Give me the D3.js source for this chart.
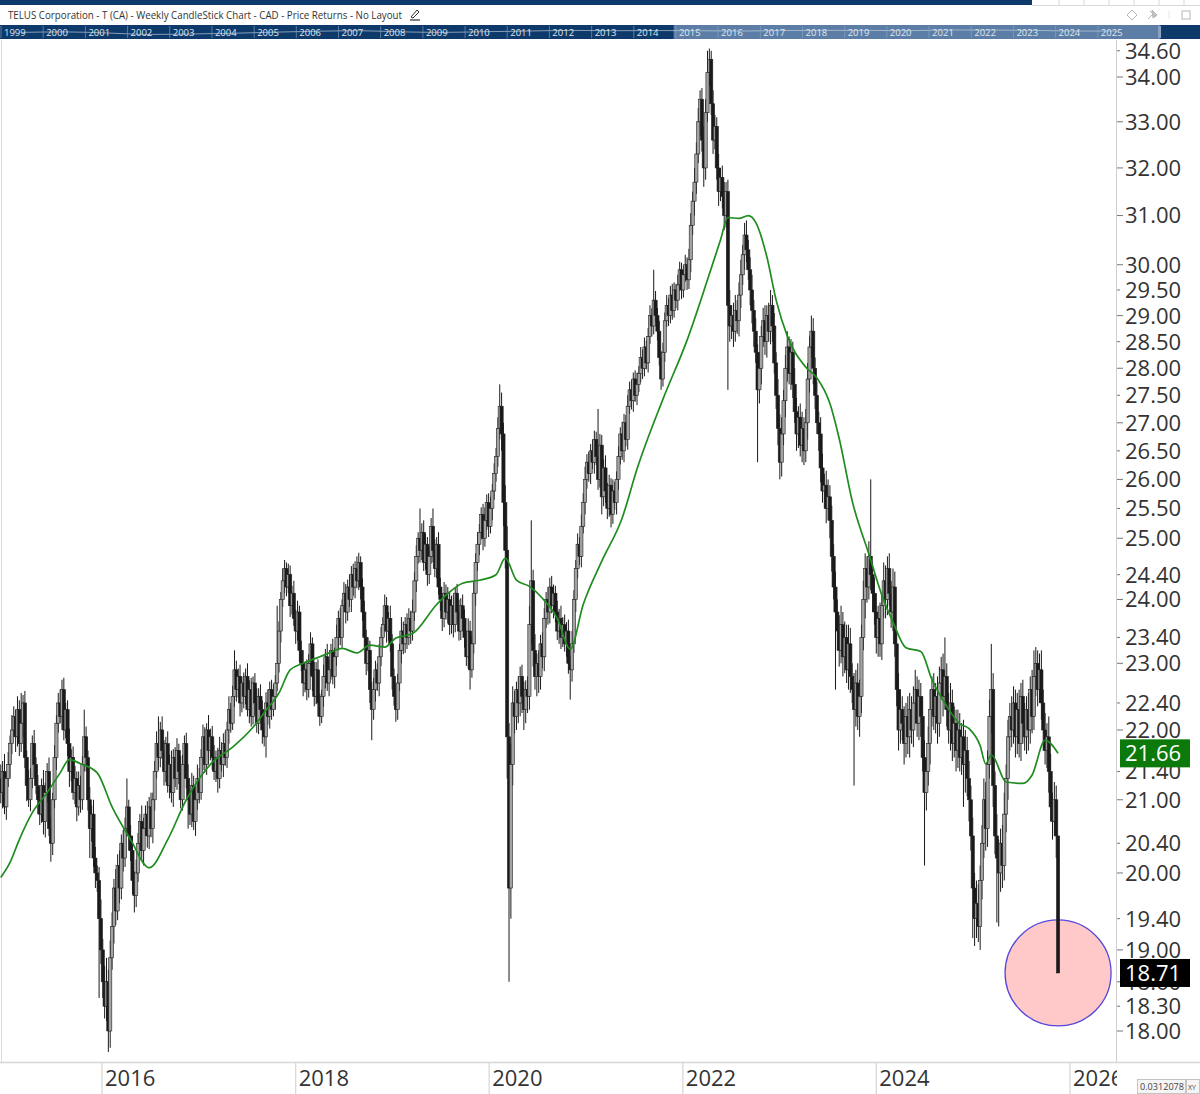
<!DOCTYPE html>
<html><head><meta charset="utf-8">
<script src="https://cdn.jsdelivr.net/npm/d3@7"></script>
<style>
html,body{margin:0;padding:0;background:#fff;}
svg{display:block;font-family:"Open Sans",sans-serif;}
</style></head>
<body>
<svg id="chart" width="1200" height="1094"></svg>
<script>
// ---------------- data ----------------
const titleText = "TELUS Corporation - T (CA) - Weekly CandleStick Chart - CAD - Price Returns - No Layout";
const firstWeek = "2014-12-15";
const firstOpen = 21.3;
// weekly closes (CAD)
const closes = [
21.1,21.4,20.9,21.3,21.5,21.8,22.0,22.2,21.9,22.3,
21.8,22.1,22.4,21.6,21.2,21.0,21.3,21.8,21.5,21.2,
21.0,20.8,21.2,20.7,21.1,21.4,20.6,20.4,21.0,21.6,
22.1,22.4,22.2,22.6,22.0,22.3,21.8,21.4,21.6,21.1,
21.3,20.9,21.2,21.0,21.5,21.9,21.6,21.0,20.6,20.8,
20.2,20.0,19.9,19.4,19.0,18.6,18.3,18.6,18.0,18.9,
19.3,19.8,19.5,20.1,19.8,20.4,20.2,20.6,20.9,20.5,
20.3,19.9,19.7,20.0,20.4,20.7,20.3,20.6,20.8,20.5,
20.9,20.6,21.0,21.4,21.8,21.6,22.0,21.7,21.4,21.8,
21.2,21.5,21.1,21.6,21.3,21.7,21.4,21.0,21.5,21.8,
21.3,21.0,20.8,21.2,20.7,21.0,21.3,21.1,21.6,21.9,
21.5,22.0,21.7,21.9,21.6,21.4,21.6,21.3,21.7,21.5,
21.8,21.6,22.0,22.3,22.1,22.5,22.9,22.6,22.8,22.4,
22.7,22.5,22.8,22.3,22.6,22.2,22.7,22.4,22.1,22.5,
22.3,22.0,21.9,22.4,22.2,22.6,22.3,22.5,22.7,23.0,
23.5,24.0,24.3,24.5,24.2,24.4,23.9,24.1,23.7,23.5,
23.8,23.2,23.0,22.7,22.9,22.6,23.0,23.3,22.8,22.5,
22.9,22.4,22.2,22.5,22.8,23.1,22.7,22.9,23.2,22.8,
23.1,23.4,23.7,23.4,23.9,24.1,23.8,24.2,24.0,24.4,
24.2,24.5,24.3,24.6,24.2,23.8,23.4,23.0,23.2,22.6,
22.3,22.6,22.9,22.7,23.1,23.4,23.6,23.9,23.5,23.7,
23.3,22.8,22.5,22.3,22.7,23.2,23.5,23.3,23.6,23.4,
23.7,23.5,23.8,24.3,24.7,25.0,24.8,25.1,24.6,24.9,
24.4,24.7,25.2,24.8,24.5,24.9,24.2,24.0,23.7,24.1,
23.8,24.0,23.6,23.9,23.6,24.1,23.8,23.5,23.9,23.7,
23.4,23.1,23.5,22.9,23.3,24.1,24.6,24.9,25.1,25.4,
25.0,25.3,25.6,25.2,25.5,25.8,26.1,26.4,26.9,27.3,
26.8,25.6,24.8,21.9,19.8,21.5,22.4,22.2,22.6,22.4,
22.8,22.5,22.3,22.6,22.5,23.6,24.3,23.2,22.8,23.0,
22.8,23.3,23.1,23.7,24.0,23.8,24.2,23.9,24.1,23.8,
23.5,23.7,23.4,23.6,23.3,23.5,23.0,22.9,23.3,24.0,
24.5,24.9,24.7,25.2,25.6,26.0,26.3,26.1,26.5,26.3,
26.7,26.4,26.0,26.6,25.7,26.2,25.8,25.5,25.9,25.4,
25.8,25.6,26.0,26.4,26.8,26.5,27.0,26.7,27.3,27.6,
27.4,27.8,27.5,27.7,27.9,28.2,28.0,28.4,28.1,28.6,
29.0,28.8,29.3,29.0,28.7,28.2,27.8,28.3,28.9,29.2,
29.0,29.4,29.1,29.5,29.3,29.6,29.9,29.5,29.8,30.0,
29.7,30.1,30.8,31.3,31.7,32.3,33.0,33.5,32.6,32.0,
33.2,34.1,34.4,33.4,32.6,32.9,32.0,31.5,31.8,31.4,
31.0,31.5,29.2,28.8,29.0,28.7,29.1,28.9,29.4,29.8,
30.2,30.6,30.3,29.9,29.5,29.1,28.7,28.3,27.6,28.0,
28.6,28.9,28.5,29.0,28.7,29.2,28.8,28.1,27.5,26.9,
26.3,26.8,27.4,28.0,28.4,27.9,28.3,27.7,27.2,26.8,
27.1,26.6,26.9,26.5,27.0,27.8,28.4,28.7,28.0,27.5,
27.0,26.8,26.2,25.8,25.9,25.5,25.7,25.3,24.7,24.2,
23.8,23.5,23.2,23.6,23.1,23.4,22.9,23.3,22.8,22.6,
22.3,22.7,22.2,22.5,23.4,24.0,24.5,24.2,24.7,24.4,
24.1,23.8,23.4,23.7,23.3,23.9,24.3,24.0,24.5,24.1,
23.8,24.2,23.3,22.6,22.0,22.3,22.1,21.8,22.2,21.9,
22.3,22.0,22.4,22.6,22.1,22.5,22.2,21.6,21.1,21.4,
21.8,22.3,22.6,22.2,22.5,22.1,22.7,22.9,22.5,22.8,
22.3,22.0,22.4,21.8,22.1,21.7,22.0,21.6,21.9,21.5,
21.7,21.3,21.0,20.5,19.8,19.4,19.6,19.3,19.9,20.4,
21.0,20.6,21.5,22.2,22.6,21.2,20.5,20.2,20.0,20.4,
20.1,20.8,21.3,21.9,22.2,22.0,22.4,21.9,22.3,21.8,
22.5,22.1,21.9,22.3,22.0,22.6,22.2,22.8,23.0,22.6,
22.9,22.4,22.0,21.7,21.9,21.4,20.9,20.7,21.0,20.5,
18.71];
// upper wick above the body, in cents
const upperWick = [
20,15,25,10,18,12,22,15,10,20, 14,45,12,18,10,22,15,12,20,10,
15,18,10,22,14,12,20,16,10,18, 12,15,20,15,18,10,14,22,12,16,
18,10,20,14,12,40,15,10,18,12, 20,15,10,18,25,14,20,30,15,22,
18,12,25,15,20,12,18,15,40,10, 15,20,12,18,14,10,22,15,12,18,
14,20,10,15,18,40,12,20,15,10, 18,14,20,12,15,18,10,22,14,12,
16,20,12,18,14,10,20,15,12,18, 14,10,22,12,16,18,10,14,20,12,
15,18,12,20,10,16,30,14,12,18, 10,16,12,20,14,18,10,15,22,12,
18,14,10,16,20,12,15,18,12,90, 15,12,20,14,10,18,15,12,20,14,
18,10,15,20,12,16,14,18,10,22, 12,16,14,10,18,12,20,15,10,18,
14,20,12,16,10,18,15,12,20,14, 18,12,20,16,10,14,18,12,20,15,
12,18,14,10,20,16,12,18,14,10, 20,15,12,18,14,10,22,15,12,18,
16,12,20,14,18,10,50,15,20,18, 12,16,14,30,18,12,20,15,10,18,
14,20,12,16,18,10,15,20,12,18, 14,10,20,16,12,18,15,20,14,12,
18,22,14,16,20,12,18,15,20,40, 25,20,30,40,20,30,25,18,12,20,
15,18,22,14,20,30,100,18,25,15, 20,14,18,16,12,20,15,18,14,12,
18,15,20,12,16,14,18,12,20,15, 14,18,12,20,16,22,14,18,12,20,
16,14,85,20,18,15,22,14,18,12, 20,16,14,18,12,22,16,14,20,15,
18,12,16,22,14,20,15,18,12,16, 20,14,60,18,15,20,12,18,16,20,
14,18,22,15,12,20,16,14,18,20, 15,22,25,20,30,25,30,20,25,30,
30,50,25,20,30,25,20,30,20,25, 30,20,25,30,20,25,30,20,25,30,
20,25,30,20,25,30,20,25,15,30, 20,25,30,20,25,30,20,25,20,30,
25,30,20,25,30,20,25,20,30,25, 20,25,30,20,25,30,20,30,25,20,
25,20,30,25,20,25,30,20,25,20, 25,20,25,30,20,25,20,30,25,20,
25,20,30,25,20,30,25,20,25,130, 20,25,30,20,25,20,30,25,20,25,
20,30,25,20,25,30,20,25,20,30, 25,20,25,30,20,25,20,30,25,20,
25,30,20,25,20,30,25,20,25,60, 20,25,30,20,25,20,30,25,20,25,
30,20,25,20,25,20,30,25,20,25, 30,25,20,25,70,25,20,30,25,20,
25,30,20,25,20,30,25,20,25,30, 20,25,30,20,25,20,30,40,25,20,
25,30,20,25,20,30,25,20,25,20, 0];
// lower wick below the body, in cents
const lowerWick = [
15,22,10,18,12,20,15,10,22,14, 18,12,20,15,22,10,16,14,18,12,
20,15,12,18,22,14,10,25,16,12, 18,14,10,20,15,12,18,22,14,10,
16,20,12,18,14,10,20,15,40,18, 12,20,15,100,18,20,15,18,25,20,
15,22,18,12,20,15,18,12,10,20, 14,18,22,15,12,18,14,20,10,16,
18,12,20,15,10,18,14,12,20,15, 10,18,14,20,12,16,18,12,15,20,
14,40,15,18,12,20,14,15,10,18, 12,15,20,14,18,12,15,20,14,10,
18,12,15,20,14,10,16,18,12,20, 14,18,12,10,20,15,12,18,14,16,
12,20,14,30,12,18,15,10,20,12, 14,18,12,20,15,10,18,14,12,20,
15,18,12,20,14,16,12,18,22,15, 12,20,14,10,16,18,12,20,15,12,
18,14,20,12,16,10,18,14,12,20, 14,18,12,15,20,14,16,18,12,20,
45,15,18,12,20,14,16,12,18,15, 12,20,14,18,15,12,20,16,14,18,
12,20,15,14,18,12,20,16,14,12, 18,15,12,20,14,16,12,18,20,14,
12,18,16,14,20,12,18,15,14,20, 16,14,18,30,12,15,20,14,18,12,
20,14,16,18,12,20,15,14,18,20, 30,40,30,60,120,40,30,25,20,30,
20,25,30,20,25,20,30,25,20,30, 25,20,18,22,15,20,18,12,20,16,
14,20,18,15,12,20,16,45,18,14, 20,16,14,18,12,20,16,14,18,12,
20,15,18,14,30,16,20,18,14,22, 16,12,20,18,14,16,20,12,18,14,
16,20,12,18,14,16,20,15,12,18, 14,20,16,12,18,15,20,14,18,12,
20,15,18,14,16,20,12,18,15,14, 20,18,25,20,30,25,20,30,25,40,
25,20,30,25,30,20,25,30,20,25, 30,25,160,30,25,30,20,25,30,25,
20,30,25,20,30,25,30,20,130,25, 30,20,25,30,20,25,30,20,25,30,
30,25,20,30,25,20,30,25,20,30, 25,20,30,25,20,30,25,20,30,25,
20,30,25,20,30,25,20,30,25,20, 120,30,25,20,30,25,20,30,25,20,
110,25,20,30,25,20,30,25,20,25, 30,20,25,30,20,25,20,30,25,20,
25,30,20,25,30,20,25,30,20,25, 30,20,25,30,20,25,30,20,100,25,
20,30,25,20,25,30,20,25,30,20, 25,20,30,25,20,30,25,20,25,60,
40,25,30,20,65,35,25,20,30,25, 20,30,25,20,25,30,25,85,70,25,
30,20,25,30,20,25,20,30,25,20, 25,30,20,25,30,20,25,20,30,25,
20,25,30,20,25,30,20,25,20,30, 0];
// moving average (green) read at week indexes
const smaWeek = [0,5,10,17,25,32,37,43,52,60,70,80,90,100,114,125,136,143,150,156,163,172,177,184,192,199,207,213,222,235,242,249,258,267,272,278,285,292,300,307,314,324,335,343,357,370,381,388,392,398,403,407,413,418,424,434,440,447,452,459,468,475,481,488,496,502,510,517,522,528,531,534,542,551,556,563,570];
const smaValue = [19.94,20.14,20.45,20.82,21.10,21.38,21.57,21.51,21.38,20.90,20.45,20.07,20.45,21.00,21.53,21.75,22.04,22.29,22.55,22.90,23.00,23.10,23.16,23.23,23.16,23.28,23.25,23.39,23.46,23.92,24.12,24.26,24.31,24.40,24.67,24.31,24.21,24.02,23.70,23.22,23.92,24.62,25.34,26.18,27.43,28.53,29.70,30.50,30.96,30.94,31.00,30.86,30.16,29.30,28.61,28.02,27.82,27.35,26.72,25.63,24.74,24.07,23.64,23.24,23.18,22.75,22.35,22.09,22.02,21.77,21.51,21.64,21.25,21.23,21.35,21.85,21.66];
const yTicksMajor = [18,19,20,21,22,23,24,25,26,27,28,29,30,31,32,33,34];
const yTicksMinor = [18.3,18.6,19.4,20.4,21.4,22.4,23.4,24.4,25.5,26.5,27.5,28.5,29.5,34.6];
const xTickYears = [2016,2018,2020,2022,2024,2026];
const navYears = [1999,2000,2001,2002,2003,2004,2005,2006,2007,2008,2009,2010,2011,2012,2013,2014,2015,2016,2017,2018,2019,2020,2021,2022,2023,2024,2025];
const navValues = [14,16,12,8,9,11,15,19,22,16,14,17,20,24,22,23,22,20,23,24,24,22,27,26,24,20,20];
const smaLabel = 21.66;
const scaleReadout = "0.0312078";

// ---------------- layout ----------------
const W = 1200, H = 1094;
const plot = {left: 0, right: 1116, top: 40, bottom: 1062};
const svg = d3.select("#chart");

const x = d3.scaleTime().domain([new Date(2016,0,1), new Date(2026,0,1)]).range([102, 1070]);
const y = d3.scaleLog().domain([18, 34]).range([1031, 77]);

const t0 = d3.timeParse("%Y-%m-%d")(firstWeek);
const weekDate = i => d3.timeDay.offset(t0, 7*i);
const candles = closes.map((c, i) => {
  const o = i === 0 ? firstOpen : closes[i-1];
  return {date: weekDate(i), o, c,
    h: Math.max(o, c) + (upperWick[i] || 0)/100,
    l: Math.min(o, c) - (lowerWick[i] || 0)/100};
});

// ---------- header ----------
svg.append("rect").attr("x",0).attr("y",0).attr("width",W).attr("height",H).attr("fill","#fff");
svg.append("rect").attr("x",0).attr("y",0).attr("width",1032).attr("height",5).attr("fill","#0d3a6b");
svg.append("line").attr("x1",1032).attr("x2",W).attr("y1",5.5).attr("y2",5.5).attr("stroke","#d8d8d8");
[1059,1084,1109,1134,1159,1184].forEach(px=>{
  svg.append("line").attr("x1",px).attr("x2",px).attr("y1",0).attr("y2",5).attr("stroke","#d8d8d8");
});
svg.append("text").attr("x",8).attr("y",19).attr("font-size",10.5).attr("fill","#333")
  .attr("textLength",394).attr("lengthAdjust","spacingAndGlyphs").text(titleText);
// pencil icon
const pen = svg.append("g").attr("transform","translate(410,9)").attr("stroke","#333").attr("fill","none");
pen.append("path").attr("d","M1,8 L7,1 L9,3 L3,9 Z").attr("stroke-width",1);
pen.append("line").attr("x1",0).attr("x2",10).attr("y1",11).attr("y2",11).attr("stroke-width",1.2);
// right icons
const ic = svg.append("g").attr("stroke","#b5b5b5").attr("fill","none").attr("stroke-width",1);
ic.append("path").attr("d","M1132,10 L1137,15 L1132,20 L1127,15 Z");
ic.append("path").attr("d","M1148,19 L1152,15 M1150,11 L1156,17 M1152,10 L1157,15 L1153,18 Z").attr("fill","#c8c8c8");
ic.append("line").attr("x1",1169).attr("x2",1169).attr("y1",11).attr("y2",19).attr("stroke","#e6e6e6");
ic.append("rect").attr("x",1182).attr("y",11).attr("width",8).attr("height",8);

// ---------- navigator ----------
const navTop = 25, navBot = 39;
const nx = d3.scaleTime().domain([new Date(1999,0,1), new Date(2026,0,1)]).range([1, 1140]);
svg.append("rect").attr("x",0).attr("y",navTop).attr("width",W).attr("height",navBot-navTop).attr("fill","#0d3a6b");
const selL = nx(x.invert(plot.left)), selR = nx(x.invert(plot.right));
svg.append("rect").attr("x",selL).attr("y",navTop).attr("width",selR-selL).attr("height",navBot-navTop).attr("fill","#5c7ea6");
svg.append("rect").attr("x",selR-2).attr("y",navTop+1).attr("width",3).attr("height",navBot-navTop-2).attr("fill","#8aa2c0");
const ny = d3.scaleLog().domain([4, 60]).range([navBot-2, navTop+2]);
svg.append("path")
  .datum(navYears.map((yr,i)=>({d:new Date(yr,6,1), v:navValues[i]})))
  .attr("d", d3.line().x(d=>nx(d.d)).y(d=>ny(d.v)).curve(d3.curveMonotoneX))
  .attr("fill","none").attr("stroke","#c9d5e5").attr("stroke-width",0.8).attr("opacity",0.8);
navYears.forEach(yr=>{
  const px = nx(new Date(yr,0,1));
  svg.append("line").attr("x1",px).attr("x2",px).attr("y1",navTop+1).attr("y2",navBot-1)
    .attr("stroke","#8ea6c4").attr("stroke-width",0.6);
  svg.append("text").attr("x",px+3).attr("y",navBot-3).attr("font-size",9.5).attr("fill","#dfe6f0").text(yr);
});

// ---------- plot frame ----------
svg.append("line").attr("x1",1.5).attr("x2",1.5).attr("y1",plot.top).attr("y2",plot.bottom).attr("stroke","#dcdcdc");
svg.append("line").attr("x1",plot.right+0.5).attr("x2",plot.right+0.5).attr("y1",plot.top).attr("y2",plot.bottom).attr("stroke","#cfcfcf");
svg.append("line").attr("x1",0).attr("x2",W).attr("y1",plot.bottom+0.5).attr("y2",plot.bottom+0.5).attr("stroke","#d6d6d6").attr("stroke-width",1.5);

const defs = svg.append("defs");
defs.append("clipPath").attr("id","plotclip").append("rect")
  .attr("x",plot.left).attr("y",plot.top).attr("width",plot.right-plot.left).attr("height",plot.bottom-plot.top);
defs.append("clipPath").attr("id","xclip").append("rect")
  .attr("x",0).attr("y",plot.bottom).attr("width",plot.right+1).attr("height",H-plot.bottom);

const g = svg.append("g").attr("clip-path","url(#plotclip)");

// highlight circle around last close
const last = candles[candles.length-1];
g.append("circle").attr("cx",x(last.date)).attr("cy",y(last.c)).attr("r",53)
  .attr("fill","#ffc9c9").attr("stroke","#5548dc").attr("stroke-width",1.3);

// candles
const bw = 3.2;
const cg = g.append("g");
cg.selectAll("line.wick").data(candles).join("line").attr("class","wick")
  .attr("x1",d=>x(d.date)).attr("x2",d=>x(d.date))
  .attr("y1",d=>y(d.h)).attr("y2",d=>y(d.l))
  .attr("stroke","#1a1a1a").attr("stroke-width",1);
cg.selectAll("rect.body").data(candles).join("rect").attr("class","body")
  .attr("x",d=>x(d.date)-bw/2).attr("width",bw)
  .attr("y",d=>y(Math.max(d.o,d.c)))
  .attr("height",d=>Math.max(1, y(Math.min(d.o,d.c))-y(Math.max(d.o,d.c))))
  .attr("fill",d=>d.c>=d.o ? "#a3a3a3" : "#1a1a1a")
  .attr("stroke","#222").attr("stroke-width",0.6);

// moving average
g.append("path")
  .datum(smaWeek.map((w,i)=>({d:weekDate(w), v:smaValue[i]})))
  .attr("d", d3.line().x(d=>x(d.d)).y(d=>y(d.v)).curve(d3.curveMonotoneX))
  .attr("fill","none").attr("stroke","#1f8c1f").attr("stroke-width",1.7);

// ---------- y axis (right) ----------
const fmt = d3.format(".2f");
const ya = svg.append("g");
const allTicks = yTicksMajor.map(v=>({v,major:true})).concat(yTicksMinor.map(v=>({v,major:false})));
allTicks.forEach(t=>{
  const py = y(t.v);
  ya.append("line").attr("x1",plot.right+1).attr("x2",plot.right+(t.major?7:4))
    .attr("y1",py).attr("y2",py).attr("stroke","#777").attr("stroke-width",1);
  ya.append("text").attr("x",plot.right+9).attr("y",py).attr("dy","0.36em")
    .attr("font-size",22).attr("fill","#333").text(fmt(t.v));
});
// value boxes
function valueBox(v, fill){
  const py = y(v);
  svg.append("rect").attr("x",plot.right+4).attr("y",py-14).attr("width",70).attr("height",28).attr("fill",fill);
  svg.append("text").attr("x",plot.right+9).attr("y",py).attr("dy","0.36em")
    .attr("font-size",22).attr("fill","#fff").text(fmt(v));
}
valueBox(smaLabel, "#0b7a0b");
valueBox(last.c, "#000");

// ---------- x axis (bottom) ----------
const xa = svg.append("g").attr("clip-path","url(#xclip)");
xTickYears.forEach(yr=>{
  const px = x(new Date(yr,0,1));
  xa.append("line").attr("x1",px).attr("x2",px).attr("y1",plot.bottom).attr("y2",H)
    .attr("stroke","#d6d6d6").attr("stroke-width",1.2);
  xa.append("text").attr("x",px+3).attr("y",1086).attr("font-size",22).attr("fill","#333").text(yr);
});

// readout box
svg.append("rect").attr("x",1137.5).attr("y",1079.5).attr("width",48).attr("height",14).attr("fill","#f5f5f5").attr("stroke","#c4c4c4");
svg.append("text").attr("x",1140).attr("y",1090).attr("font-size",9).attr("fill","#444")
  .attr("textLength",44).attr("lengthAdjust","spacingAndGlyphs").text(scaleReadout);
svg.append("rect").attr("x",1186.5).attr("y",1079.5).attr("width",13).attr("height",14).attr("fill","#f5f5f5").attr("stroke","#c4c4c4");
svg.append("text").attr("x",1188).attr("y",1090).attr("font-size",7).attr("fill","#444").text("XY");
</script>
</body></html>
